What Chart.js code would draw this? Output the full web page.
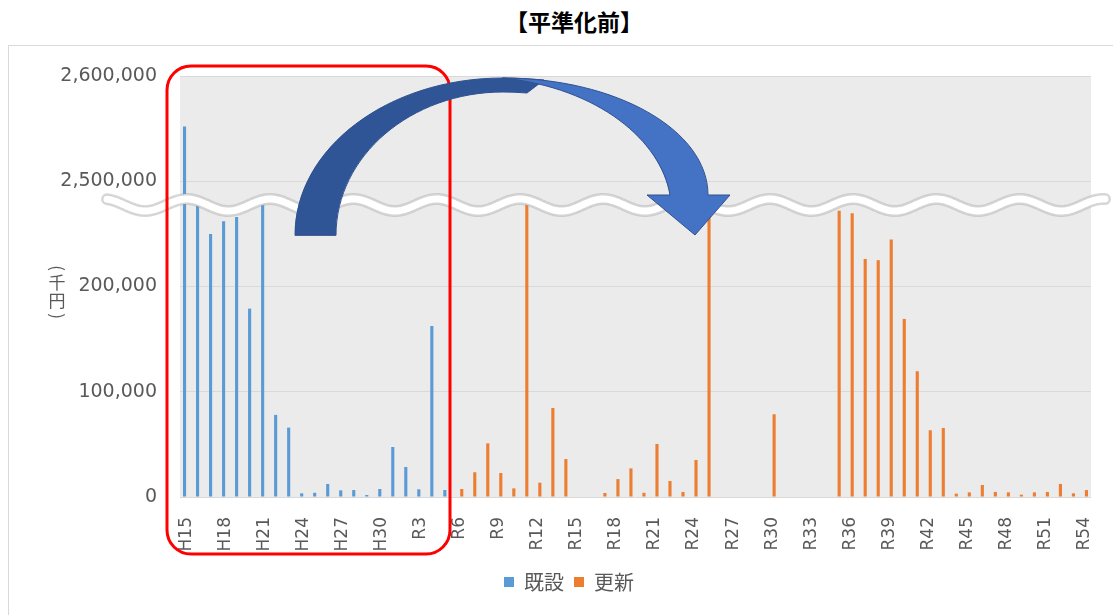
<!DOCTYPE html>
<html lang="ja">
<head>
<meta charset="utf-8">
<script src="https://cdn.jsdelivr.net/npm/chart.js@4.4.1/dist/chart.umd.min.js"></script>
<style>
  body { margin: 0; width: 1113px; height: 615px; overflow: hidden; background: #fff;
         font-family: "Noto Sans CJK JP", "Noto Sans", sans-serif; }
  #title { position: absolute; left: 0; top: 4px; width: 1148px; text-align: center;
           font-size: 23px; font-weight: bold; color: #000; }
  #frame { position: absolute; left: 8px; top: 45px; width: 1200px; height: 600px;
           border: 1px solid #d9d9d9; }
  #wrap { position: absolute; left: 9px; top: 46px; width: 1120px; height: 569px; }
</style>
</head>
<body>
<div id="title">【平準化前】</div>
<div id="frame"></div>
<div id="wrap"><canvas id="chart"></canvas></div>
<script>
// fiscal years H15 .. R54
const years = [
  'H15','H16','H17','H18','H19','H20','H21','H22','H23','H24','H25','H26','H27','H28','H29','H30',
  'R1','R2','R3','R4','R5','R6','R7','R8','R9','R10','R11','R12','R13','R14','R15','R16','R17','R18',
  'R19','R20','R21','R22','R23','R24','R25','R26','R27','R28','R29','R30','R31','R32','R33','R34',
  'R35','R36','R37','R38','R39','R40','R41','R42','R43','R44','R45','R46','R47','R48','R49','R50',
  'R51','R52','R53','R54'
];

// 既設 (千円), H15 .. R5
const existingVals = [
  2552000, 2480000, 250000, 262000, 266000, 179000, 2480000, 78000, 65900, 3500,
  4000, 12400, 6300, 6600, 1900, 7600, 47500, 28500, 7300, 162500, 6600
];

// 更新 (千円), R6 .. R54
const renewalVals = [
  7600, 23500, 51000, 22800, 8200, 2480000, 13600, 84600, 36000, null,
  500, 3800, 17000, 27200, 4000, 50400, 15200, 4800, 35200, 2480000,
  null, null, null, null, 78600, null, null, null, null, 272000,
  269700, 226200, 225000, 244600, 169200, 119500, 63400, 65600, 3200, 4400,
  11400, 4800, 4400, 2200, 4400, 4800, 12400, 3500, 6600
];

// broken axis: 0-200,000 shown as is, 2,500,000+ shown above the break
const yTicks = [0, 100000, 200000, 300000, 400000];
const BREAK_GAP = 2200000;

const existing = existingVals.concat(new Array(years.length - existingVals.length).fill(null));
const renewal = new Array(years.length - renewalVals.length).fill(null).concat(renewalVals);

function toAxis(v) {
    if (v == null) return null;
    return v >= 1000000 ? v - BREAK_GAP : v;
}

const FONT = '"Noto Sans CJK JP", "Noto Sans", sans-serif';
const NUM_FONT = '"DejaVu Sans", "Noto Sans CJK JP", sans-serif';
Chart.defaults.font.family = FONT;
Chart.defaults.color = '#595959';

const plotBg = {
    id: 'plotBg',
    beforeDraw(chart) {
        const { ctx, chartArea: a } = chart;
        ctx.save();
        ctx.fillStyle = '#ebebeb';
        ctx.fillRect(a.left, a.top, a.right - a.left, a.bottom - a.top);
        ctx.restore();
    }
};

// wave break, red frame, curved arrow, vertical axis title
const overlay = {
    id: 'overlay',
    afterDraw(chart) {
        const ctx = chart.ctx;
        ctx.save();

        // wavy break line
        const wave = () => {
            ctx.beginPath();
            for (let x = 98; x <= 1096; x += 1) {
                const y = 159 - 6 * Math.cos(2 * Math.PI * (x - 177.7) / 83.3);
                if (x === 98) ctx.moveTo(x, y); else ctx.lineTo(x, y);
            }
        };
        ctx.lineCap = 'round';
        wave(); ctx.strokeStyle = 'rgba(150,150,150,0.35)'; ctx.lineWidth = 12; ctx.stroke();
        wave(); ctx.strokeStyle = '#d4d4d4'; ctx.lineWidth = 10; ctx.stroke();
        wave(); ctx.strokeStyle = '#ffffff'; ctx.lineWidth = 7; ctx.stroke();

        // red rounded frame
        ctx.beginPath();
        ctx.roundRect(158, 20, 283, 488, 24);
        ctx.strokeStyle = '#ff0000';
        ctx.lineWidth = 3;
        ctx.stroke();

        // curved arrow, back (dark) part
        ctx.lineJoin = 'round';
        ctx.strokeStyle = '#2f528f';
        ctx.lineWidth = 1;
        ctx.beginPath();
        ctx.moveTo(286, 189);
        ctx.bezierCurveTo(286, 102, 379, 32, 494, 32);
        ctx.bezierCurveTo(508, 32, 522, 33, 535, 34);
        ctx.lineTo(518, 47);
        ctx.bezierCurveTo(510, 46.3, 502, 46, 494, 46);
        ctx.bezierCurveTo(402, 46, 327, 110, 327, 189);
        ctx.closePath();
        ctx.fillStyle = '#2f5597';
        ctx.fill();
        ctx.stroke();

        // front (light) part with head
        ctx.beginPath();
        ctx.moveTo(494, 32);
        ctx.bezierCurveTo(607, 32, 699, 84, 699, 149);
        ctx.lineTo(721, 149);
        ctx.lineTo(686, 189);
        ctx.lineTo(638, 149);
        ctx.lineTo(661, 149);
        ctx.bezierCurveTo(652, 95, 590, 42, 494, 32);
        ctx.closePath();
        ctx.fillStyle = '#4472c4';
        ctx.fill();
        ctx.stroke();

        // vertical y axis title （千円）
        ctx.fillStyle = '#595959';
        ctx.font = '17px ' + FONT;
        ctx.textAlign = 'center';
        ctx.textBaseline = 'middle';
        const x = 48;
        const rotChar = (ch, y) => {
            ctx.save();
            ctx.translate(x, y);
            ctx.rotate(Math.PI / 2);
            ctx.fillText(ch, 0, 0);
            ctx.restore();
        };
        rotChar('(', 222);
        ctx.fillText('千', x, 237);
        ctx.fillText('円', x, 255);
        rotChar(')', 270);

        ctx.restore();
    }
};

new Chart(document.getElementById('chart'), {
    type: 'bar',
    data: {
        labels: years,
        datasets: [
            { label: '既設', data: existing.map(toAxis), backgroundColor: '#5b9bd5' },
            { label: '更新', data: renewal.map(toAxis), backgroundColor: '#ed7d31' }
        ]
    },
    options: {
        responsive: true,
        maintainAspectRatio: false,
        animation: false,
        layout: { padding: { top: 30, right: 0, bottom: 13, left: 0 } },
        datasets: { bar: { categoryPercentage: 0.6, barPercentage: 0.8 } },
        scales: {
            x: {
                grid: { display: false },
                border: { display: false },
                ticks: {
                    autoSkip: false,
                    minRotation: 90,
                    maxRotation: 90,
                    padding: 12,
                    font: { size: 17, family: NUM_FONT },
                    callback: (v, i) => (i % 3 === 0 ? years[i] : '')
                },
                afterFit: s => { s.height = 65; s.paddingLeft = 0; s.paddingRight = 0; }
            },
            y: {
                min: yTicks[0],
                max: yTicks[yTicks.length - 1],
                afterBuildTicks: s => { s.ticks = yTicks.map(v => ({ value: v })); },
                grid: { color: '#d9d9d9', drawTicks: false },
                border: { display: false },
                ticks: {
                    padding: 23,
                    font: { size: 19, family: NUM_FONT },
                    callback: v => (v >= 300000 ? v + BREAK_GAP : v).toLocaleString('en-US')
                },
                afterFit: s => { s.width = 171; s.paddingTop = 0; s.paddingBottom = 0; }
            },
            // empty right-hand strip so the legend centres like the original
            yRight: {
                position: 'right',
                grid: { display: false },
                border: { display: false },
                ticks: { display: false },
                afterFit: s => { s.width = 38; s.paddingTop = 0; s.paddingBottom = 0; }
            }
        },
        plugins: {
            legend: {
                position: 'bottom',
                labels: { boxWidth: 10, boxHeight: 10, padding: 10, font: { size: 20 } }
            },
            tooltip: { enabled: false }
        }
    },
    plugins: [plotBg, overlay]
});
</script>
</body>
</html>
